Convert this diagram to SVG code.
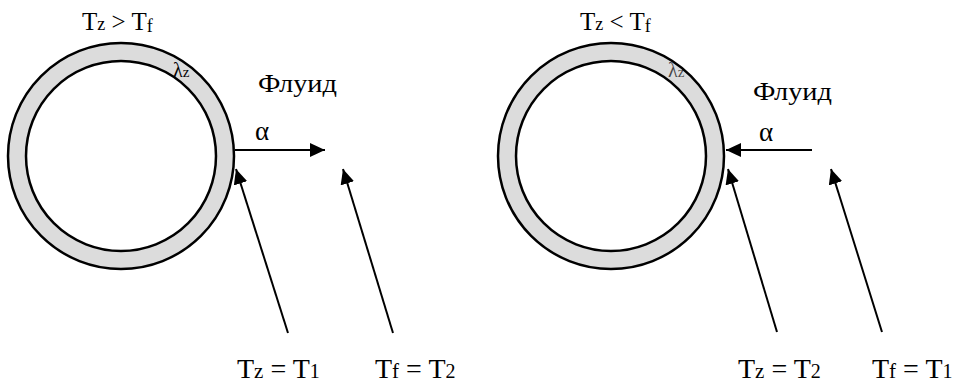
<svg xmlns="http://www.w3.org/2000/svg" width="959" height="384" viewBox="0 0 959 384">
<style>
.ring{fill:#dcdcdc;stroke:#000;stroke-width:2.5}
.hole{fill:#fff;stroke:#000;stroke-width:2.5}
text{font-family:'Liberation Serif','DejaVu Serif',serif;fill:#000}
.fl{font-size:26px}
.ln{stroke:#000;stroke-width:2;fill:none}
</style>
<defs>
<marker id="ah" markerUnits="userSpaceOnUse" markerWidth="16" markerHeight="14" refX="15" refY="7" orient="auto">
<path d="M0,0 L15,7 L0,14 z" fill="#000"/>
</marker>
</defs>
<rect width="959" height="384" fill="#fff"/>
<g id="pipe-left">
<circle class="ring" cx="121" cy="156" r="113"/>
<circle class="hole" cx="121" cy="156" r="95"/>
<text x="173" y="77" font-size="20">λ<tspan font-size="15">z</tspan></text>
<text x="82" y="30" font-size="25">T<tspan font-size="18">z</tspan> &gt; T<tspan font-size="18" dy="2">f</tspan></text>
<text class="fl" x="258" y="92" textLength="79" lengthAdjust="spacingAndGlyphs">Флуид</text>
<text x="255" y="140" font-size="27">α</text>
</g>
<g id="pipe-right">
<circle class="ring" cx="611" cy="156" r="113"/>
<circle class="hole" cx="611" cy="156" r="95"/>
<text x="668" y="77" font-size="20" fill-opacity="0.7">λ<tspan font-size="15">z</tspan></text>
<text x="580" y="30" font-size="25">T<tspan font-size="18">z</tspan> &lt; T<tspan font-size="18" dy="2">f</tspan></text>
<text class="fl" x="753" y="100" textLength="79" lengthAdjust="spacingAndGlyphs">Флуид</text>
<text x="759" y="141" font-size="27">α</text>
</g>
<g id="label-left-wall">
<text x="237" y="378" font-size="28">T<tspan font-size="21">z</tspan> = T<tspan font-size="20">1</tspan></text>
</g>
<g id="label-left-fluid">
<text x="375" y="378" font-size="28">T<tspan font-size="21">f</tspan> = T<tspan font-size="20">2</tspan></text>
</g>
<g id="label-right-wall">
<text x="738" y="378" font-size="28">T<tspan font-size="21">z</tspan> = T<tspan font-size="20">2</tspan></text>
</g>
<g id="label-right-fluid">
<text x="872" y="378" font-size="28">T<tspan font-size="21">f</tspan> = T<tspan font-size="20">1</tspan></text>
</g>
<g id="connectors">
<line class="ln" x1="235" y1="150" x2="325" y2="150" marker-end="url(#ah)"/>
<line class="ln" x1="288" y1="333" x2="236" y2="169" marker-end="url(#ah)"/>
<line class="ln" x1="393" y1="333" x2="343" y2="169" marker-end="url(#ah)"/>
<line class="ln" x1="812" y1="150" x2="726" y2="150" marker-end="url(#ah)"/>
<line class="ln" x1="777" y1="332" x2="728" y2="169" marker-end="url(#ah)"/>
<line class="ln" x1="882" y1="332" x2="831" y2="169" marker-end="url(#ah)"/>
</g>
</svg>
